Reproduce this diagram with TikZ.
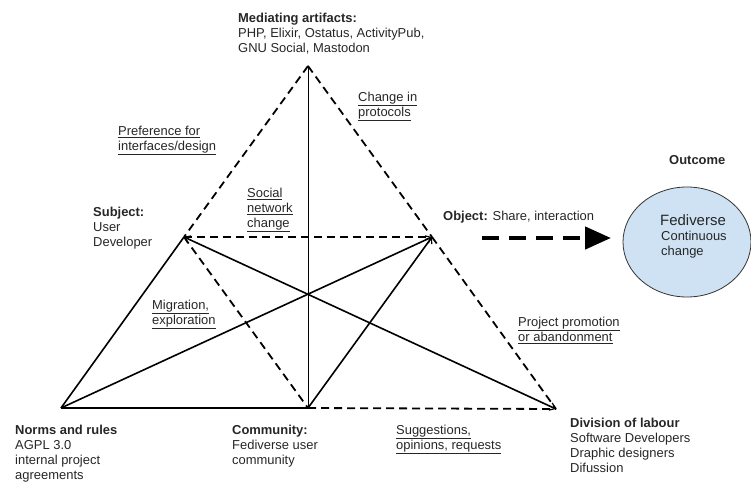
\documentclass[tikz,border=0pt]{standalone}
\usepackage{fontspec}
\setmainfont{Liberation Sans}
\usetikzlibrary{arrows.meta,shapes.geometric}
\definecolor{txt}{HTML}{262626}
\definecolor{ellfill}{HTML}{CFE2F3}
\begin{document}
\begin{tikzpicture}[x=1bp,y=-1bp,
  lbl/.style={anchor=north west,inner sep=0pt,align=left,text=txt,font=\fontsize{13}{15}\selectfont},
  solidln/.style={line width=1.6bp,black},
  dashln/.style={line width=1.8bp,black,dash pattern=on 8bp off 5bp},
  tip/.style={-{Straight Barb[length=5bp,width=8bp,line width=1.2bp]}}
]
\useasboundingbox (0,0) rectangle (751,482);
% vertices
\coordinate (A) at (308,66);
\coordinate (S) at (184,237);
\coordinate (O) at (432,237);
\coordinate (N) at (61,408);
\coordinate (C) at (308,408);
\coordinate (D) at (556,409);
% edges
\draw[dashln] (A) -- (S);
\draw[solidln] (S) -- (N);
\draw[dashln] (A) -- (O);
\draw[dashln] (O) -- (D);
\draw[solidln] (N) -- (C);
\draw[dashln] (C) -- (D);
\draw[line width=0.9bp] (A) -- (C);
\draw[dashln] (S) -- (O);
\draw[dashln] (S) -- (C);
\draw[solidln,tip] (N) -- (O);
\draw[solidln,tip] (C) -- (O);
\draw[solidln,{Straight Barb[length=5bp,width=8bp,line width=1.2bp]}-{Straight Barb[length=5bp,width=8bp,line width=1.2bp]}] (S) -- (D);
% outcome
\node[ellipse,draw=black!80,line width=0.8bp,fill=ellfill,minimum width=128bp,minimum height=110bp,inner sep=0pt] (E) at (687,242) {};
\coordinate (arrS) at (482,238);
\coordinate (arrE) at (611,238);
\draw[line width=4.5bp,dash pattern=on 17bp off 10bp,-{Triangle[length=26bp,width=22bp]}] (arrS) -- (arrE);
% labels
\node[lbl] (med) at (238,13) {\textbf{Mediating artifacts:}\\PHP, Elixir, Ostatus, ActivityPub,\\GNU Social, Mastodon};
\node[lbl] (chg) at (358,92) {\underline{Change in}\\\underline{protocols}};
\node[lbl] (pref) at (118,126) {\underline{Preference for}\\\underline{interfaces/design}};
\node[lbl] (soc) at (247,188) {\underline{Social}\\\underline{network}\\\underline{change}};
\node[lbl] (subj) at (93,207) {\textbf{Subject:}\\User\\Developer};
\node[lbl] (obj) at (443,211) {\textbf{Object:} Share, interaction};
\node[lbl] (outc) at (669,155) {\textbf{Outcome}};
\node[lbl] (mig) at (152,300) {\underline{Migration,}\\\underline{exploration}};
\node[lbl] (proj) at (518,317) {\underline{Project promotion}\\\underline{or abandonment}};
\node[lbl] (norm) at (15,425) {\textbf{Norms and rules}\\AGPL 3.0\\internal project\\agreements};
\node[lbl] (comm) at (232,425) {\textbf{Community:}\\Fediverse user\\community};
\node[lbl] (sugg) at (396,425) {\underline{Suggestions,}\\\underline{opinions, requests}};
\node[lbl] (div) at (570,418) {\textbf{Division of labour}\\Software Developers\\Draphic designers\\Difussion};
\node[lbl,font=\fontsize{15}{18}\selectfont] (fed) at (660,214) {Fediverse};
\node[lbl] (cont) at (661,231) {Continuous\\change};
\end{tikzpicture}
\end{document}
